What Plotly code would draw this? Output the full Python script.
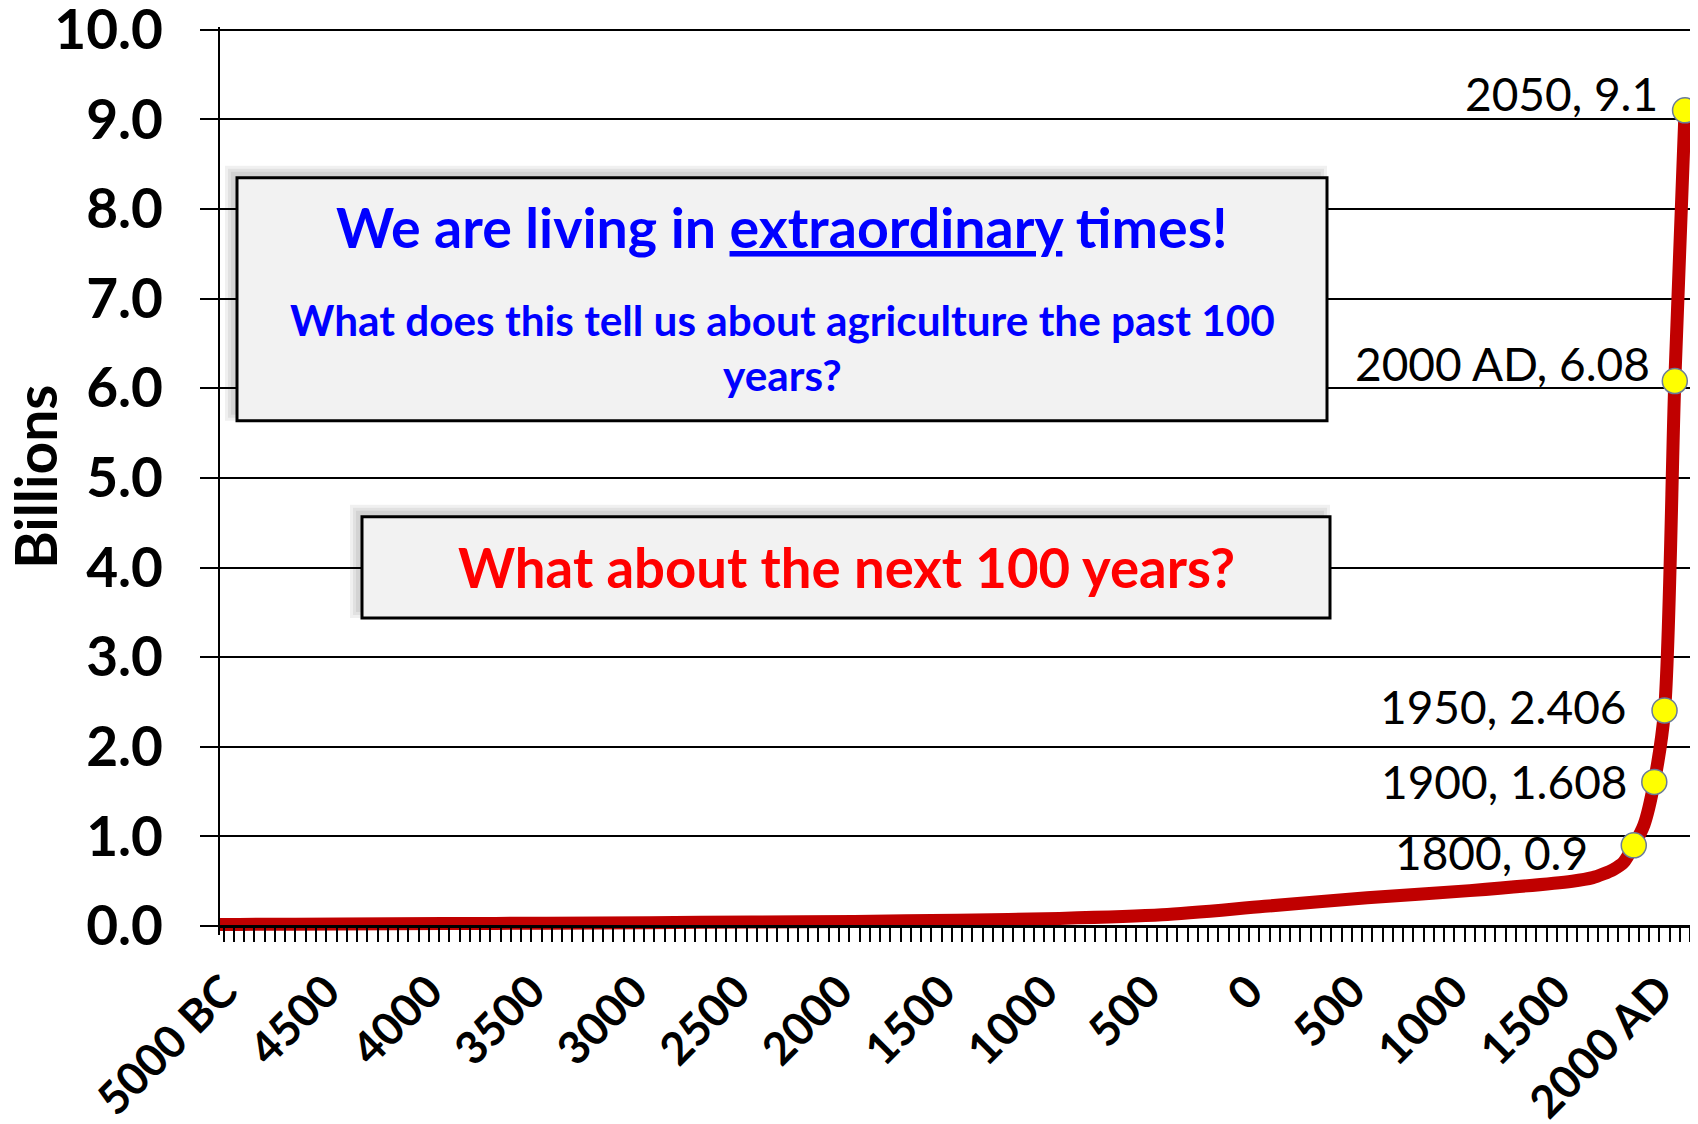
import plotly.graph_objects as go

# ---------------- data ----------------
years = [-5100, -5000, -4500, -4000, -3500, -3000, -2500, -2000, -1500, -1000,
         -500, 0, 500, 1000, 1500, 1600, 1650, 1700, 1750, 1800, 1850,
         1900, 1950, 2000, 2050]
population = [0.017, 0.018, 0.022, 0.027, 0.032, 0.038, 0.045, 0.052, 0.065, 0.085,
              0.125, 0.22, 0.315, 0.395, 0.50, 0.54, 0.58, 0.63, 0.71, 0.9, 1.13,
              1.608, 2.406, 6.08, 9.1]

key_years = [1800, 1900, 1950, 2000, 2050]
key_values = [0.9, 1.608, 2.406, 6.08, 9.1]
key_labels = ["1800, 0.9", "1900, 1.608", "1950, 2.406", "2000 AD, 6.08", "2050, 9.1"]

x_tick_years = [-5000, -4500, -4000, -3500, -3000, -2500, -2000, -1500, -1000,
                -500, 0, 500, 1000, 1500, 2000]
x_tick_labels = ["5000 BC", "4500", "4000", "3500", "3000", "2500", "2000", "1500",
                 "1000", "500", "0", "500", "1000", "1500", "2000 AD"]

y_tick_values = [0, 1, 2, 3, 4, 5, 6, 7, 8, 9, 10]
y_tick_labels = ["0.0", "1.0", "2.0", "3.0", "4.0", "5.0", "6.0", "7.0", "8.0", "9.0", "10.0"]

# ---------------- layout geometry ----------------
# target positions are given in screenshot pixels; the page body adds an
# 8px margin around the figure, so the figure itself is 8px smaller/offset.
OFF = 8
SW, SH = 1698, 1124
W, H = SW - OFF, SH - OFF
PL, PR, PT, PB = 220, 1691, 27.3, 935
Y_MIN, Y_MAX = -0.1, 10.03


def px_x(p):
    return (p - PL) / (PR - PL)


def px_y(p):
    return (PB - p) / (PB - PT)


FONT = "Lato"
RED = "#C00000"

fig = go.Figure()

fig.add_trace(go.Scatter(
    x=years, y=population, mode="lines",
    line=dict(color=RED, width=13, shape="spline", smoothing=0.8),
    hoverinfo="skip",
))

fig.add_trace(go.Scatter(
    x=key_years, y=key_values, mode="markers",
    marker=dict(size=25, color="#FFFF00", line=dict(color="#6A7B99", width=1.5)),
    cliponaxis=False, hoverinfo="skip",
))

# data labels
label_shifts = [(-44, -7), (-24, 0), (-36, 4), (-23, 18), (-25, 17)]
annotations = []
for xv, yv, txt, (dx, dy) in zip(key_years, key_values, key_labels, label_shifts):
    annotations.append(dict(
        x=xv, y=yv, xref="x", yref="y", text=txt, showarrow=False,
        xanchor="right", yanchor="middle", xshift=dx, yshift=dy,
        font=dict(family=FONT, size=46, color="black"),
    ))

# y-axis title
annotations.append(dict(
    x=px_x(35), y=px_y(477), xref="paper", yref="paper", text="Billions",
    showarrow=False, textangle=-90, xanchor="center", yanchor="middle",
    font=dict(family=FONT, size=57, color="black", weight="bold"),
))

# boxes
box1 = (237, 178, 1327, 421)
box2 = (362, 517, 1330, 618)
shapes = []
for (x0, y0, x1, y1) in (box1, box2):
    for e in (6, 3, 0):
        shapes.append(dict(
            type="rect", xref="paper", yref="paper", layer="above",
            x0=px_x(x0 - 6 - e), x1=px_x(x1 - 6 + e),
            y0=px_y(y1 - 6 + e), y1=px_y(y0 - 6 - e),
            fillcolor="rgba(0,0,0,0.06)", line=dict(width=0),
        ))
    shapes.append(dict(
        type="rect", xref="paper", yref="paper", layer="above",
        x0=px_x(x0), x1=px_x(x1), y0=px_y(y1), y1=px_y(y0),
        fillcolor="#F2F2F2", line=dict(color="black", width=3),
    ))

annotations.append(dict(
    x=px_x((box1[0] + box1[2]) / 2), y=px_y(227), xref="paper", yref="paper",
    text="We are living in <u>extraordinary</u> times!", showarrow=False,
    xanchor="center", yanchor="middle",
    font=dict(family=FONT, size=55.5, color="#0000FF", weight="bold"),
))
annotations.append(dict(
    x=px_x((box1[0] + box1[2]) / 2), y=px_y(347), xref="paper", yref="paper",
    text="What does this tell us about agriculture the past 100<br>years?",
    showarrow=False, xanchor="center", yanchor="middle", align="center",
    font=dict(family=FONT, size=42.3, color="#0000FF", weight="bold"),
))
annotations.append(dict(
    x=px_x((box2[0] + box2[2]) / 2), y=px_y(567), xref="paper", yref="paper",
    text="What about the next 100 years?", showarrow=False,
    xanchor="center", yanchor="middle",
    font=dict(family=FONT, size=54.5, color="#FF0000", weight="bold"),
))

fig.update_layout(
    width=W, height=H,
    margin=dict(l=PL - OFF, r=W - (PR - OFF), t=PT - OFF, b=H - (PB - OFF),
                pad=0, autoexpand=False),
    plot_bgcolor="white", paper_bgcolor="white",
    showlegend=False,
    font=dict(family=FONT, color="black"),
    annotations=annotations, shapes=shapes,
    xaxis=dict(
        range=[-5093, 2079], tickmode="array", tickvals=x_tick_years,
        ticktext=x_tick_labels, tickangle=-45, ticks="",
        tickfont=dict(family=FONT, size=45, color="black", weight="bold"),
        showline=True, linecolor="black", linewidth=2.5, mirror=False,
        showgrid=False, zeroline=False, automargin=False,
        anchor="free", position=(0 - Y_MIN) / (Y_MAX - Y_MIN),
        ticklabelstandoff=19, ticklabelshift=-15, ticklabeloverflow="allow",
        minor=dict(tick0=-5075, dtick=50, ticks="outside", ticklen=14,
                   tickwidth=2, tickcolor="black", showgrid=False),
    ),
    yaxis=dict(
        range=[Y_MIN, Y_MAX], tickmode="array", tickvals=y_tick_values,
        ticktext=y_tick_labels, ticks="outside", ticklen=18, tickwidth=2,
        tickcolor="black", automargin=False, ticklabeloverflow="allow",
        tickfont=dict(family=FONT, size=55, color="black", weight="bold"),
        showgrid=True, gridcolor="black", gridwidth=2,
        showline=True, linecolor="black", linewidth=2, mirror=True,
        zeroline=False, ticklabelstandoff=26,
    ),
)

fig.write_html("out.html")
